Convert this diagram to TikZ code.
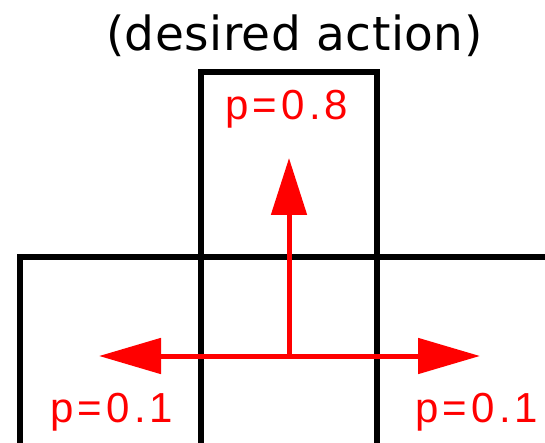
\documentclass[tikz,border=0pt]{standalone}
\usepackage{fontspec}
\setmainfont{DejaVu Sans}
\newfontfamily\redfont[LetterSpace=10]{Liberation Sans}
\newfontfamily\titlefont[LetterSpace=1]{DejaVu Sans}
\usetikzlibrary{arrows.meta}
\begin{document}
\begin{tikzpicture}[x=1pt,y=-1pt,
  cell/.style={draw=black, line width=5.5pt, inner sep=0pt, outer sep=0pt, anchor=north west},
  redarrow/.style={draw=red, line width=5pt},
  redlbl/.style={text=red, inner sep=0pt, anchor=base west, font=\redfont\fontsize{42}{50}\selectfont},
  titlelbl/.style={text=black, inner sep=0pt, anchor=base west, font=\titlefont\fontsize{47}{55}\selectfont}]
\useasboundingbox (0,0) rectangle (545,443);
\clip (0,0) rectangle (545,443);
\fill[white] (0,0) rectangle (545,443);
% cells
\node[cell, minimum width=176pt, minimum height=185pt] (up) at (201,72) {};
\node[cell, minimum width=181pt, minimum height=250pt] (left) at (20,257) {};
\node[cell, minimum width=176pt, minimum height=250pt] (mid) at (201,257) {};
\node[cell, minimum width=250pt, minimum height=250pt] (right) at (377,257) {};
% arrows
\coordinate (o) at (289,356);
\coordinate (tu) at (289,158);
\coordinate (tl) at (99,356);
\coordinate (tr) at (480,356);
\draw[redarrow, -{Triangle[length=57pt,width=35pt]}] (o) -- (tu);
\draw[redarrow, -{Triangle[length=62pt,width=35pt]}] (o) -- (tl);
\draw[redarrow, -{Triangle[length=62pt,width=35pt]}] (o) -- (tr);
% labels
\node[titlelbl] (title) at (106,51) {(desired action)};
\node[redlbl] (p8) at (225,120) {p=0.8};
\node[redlbl] (pl) at (50,422) {p=0.1};
\node[redlbl] (pr) at (415,422) {p=0.1};
\end{tikzpicture}
\end{document}
